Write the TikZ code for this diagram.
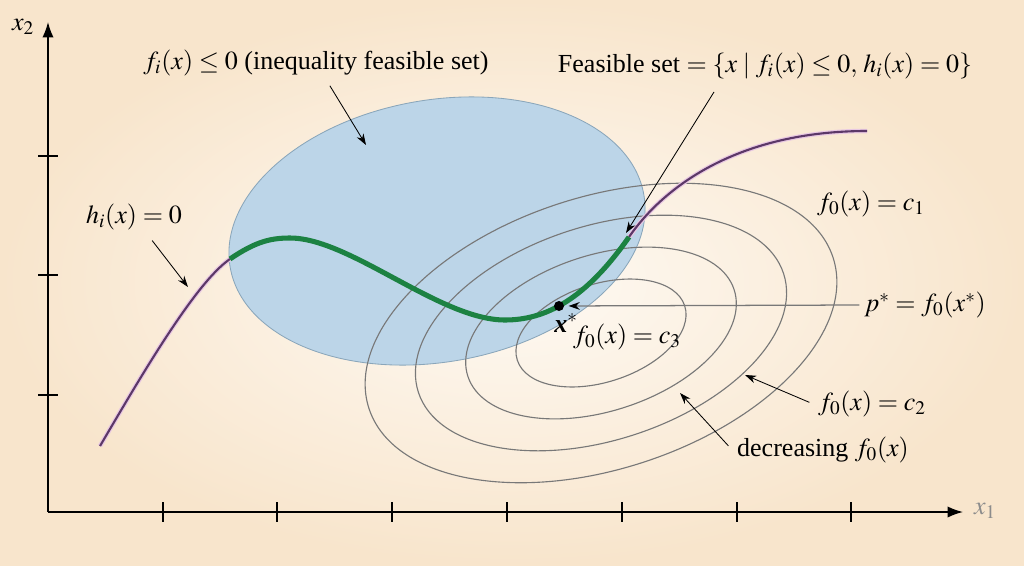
\documentclass[tikz,border=0pt]{standalone}
\usepackage{mathptmx}
\usepackage{fontspec}
\setmainfont{Liberation Serif}
\usetikzlibrary{arrows.meta,positioning,calc}
\definecolor{bgin}{RGB}{254,250,244}
\definecolor{bgout}{RGB}{248,229,204}
\definecolor{setblue}{RGB}{188,213,232}
\definecolor{setedge}{RGB}{138,166,186}
\definecolor{hcurve}{RGB}{92,56,104}
\definecolor{hglow}{RGB}{232,200,226}
\definecolor{feasgreen}{RGB}{28,130,66}
\definecolor{levelgray}{RGB}{120,120,120}
\begin{document}
\begin{tikzpicture}[x=0.025cm,y=-0.025cm,font=\fontsize{18.5}{22}\selectfont,
  axis/.style={black,line width=1pt},
  pointer/.style={-{Stealth[length=8pt,width=5.5pt]},black,line width=0.6pt},
  level/.style={levelgray,line width=0.8pt}]
  % background
  \shade[inner color=bgin,outer color=bgout] (0,0) rectangle (1024,565);
  \useasboundingbox (0,0) rectangle (1024,565);
  % inequality feasible set
  \filldraw[fill=setblue,draw=setedge,line width=0.6pt,rotate around={10:(437,231)}]
    (437,231) ellipse [x radius=210,y radius=131];
  % level curves of f0
  \foreach \a/\b in {88/49,140/78,192/107,244/136}
    \draw[level,rotate around={18:(601,333)}] (601,333) ellipse [x radius=\a,y radius=\b];
  % equality constraint curve, feasible part in green
  \draw[hcurve,line width=1.5pt,preaction={draw,hglow,line width=3.2pt}]
    (100,446) .. controls (140,378) and (195,283) .. (230,259)
    (629,237) .. controls (665,185) and (740,131) .. (867,131);
  \draw[feasgreen,line width=3.6pt]
    (230,259) .. controls (255,242) and (270,238) .. (290,238)
    .. controls (350,238) and (440,320) .. (505,320)
    .. controls (545,320) and (585,300) .. (629,237);
  % axes
  \coordinate (origin) at (48,512);
  \coordinate (xend) at (963,512);
  \coordinate (yend) at (48,22);
  \draw[axis,-{Latex[length=11pt,width=8pt]}] (origin) -- (xend);
  \draw[axis,-{Latex[length=11pt,width=8pt]}] (origin) -- (yend);
  \foreach \x in {163,277,392,507,622,737,851}
    \draw[axis] (\x,502) -- (\x,522);
  \foreach \y in {156,275,395}
    \draw[axis] (38,\y) -- (58,\y);
  \node[black!45] (xonelbl) at (985,511) {$x_1$};
  \node (xtwolbl) at (23,27) {$x_2$};
  % optimum
  \node[circle,fill=black,inner sep=0pt,minimum size=0.25cm] (xopt) at (559,306) {};
  % labels
  \node (ineqlbl) at (316,63) {$f_i(x) \le 0$ (inequality feasible set)};
  \node (feaslbl) at (765,66) {Feasible set $= \{x \mid f_i(x) \le 0,\, h_i(x) = 0\}$};
  \node (hlbl) at (134,217) {$h_i(x) = 0$};
  \node (conelbl) at (871,204) {$f_0(x) = c_1$};
  \node (ctwolbl) at (872,404) {$f_0(x) = c_2$};
  \node (cthreelbl) at (627,337) {$f_0(x) = c_3$};
  \node (plbl) at (925,305) {$p^* = f_0(x^*)$};
  \node (declbl) at (823,450) {decreasing $f_0(x)$};
  \node (xoptlbl) at (566,323) {\textbf{\textit{x}}$^*$};
  % pointers
  \coordinate (ineqtip) at (366,145);
  \coordinate (feastip) at (626,233);
  \coordinate (htip) at (188,287);
  \coordinate (dectip) at (680,393);
  \coordinate (ctwotip) at (745,375);
  \draw[pointer,shorten <=4pt] (ineqlbl) -- (ineqtip);
  \draw[pointer] ($(feaslbl.south)+(-51,8)$) -- (feastip);
  \draw[pointer,shorten <=5pt] (hlbl) -- (htip);
  \draw[pointer,shorten <=4pt] (declbl.west) -- (dectip);
  \draw[pointer,shorten <=3pt] (ctwolbl.west) -- (ctwotip);
  \draw[-{Stealth[length=8pt,width=5.5pt,black]},levelgray,line width=0.9pt,shorten >=3pt]
    (plbl.west) -- (xopt);
\end{tikzpicture}
\end{document}
